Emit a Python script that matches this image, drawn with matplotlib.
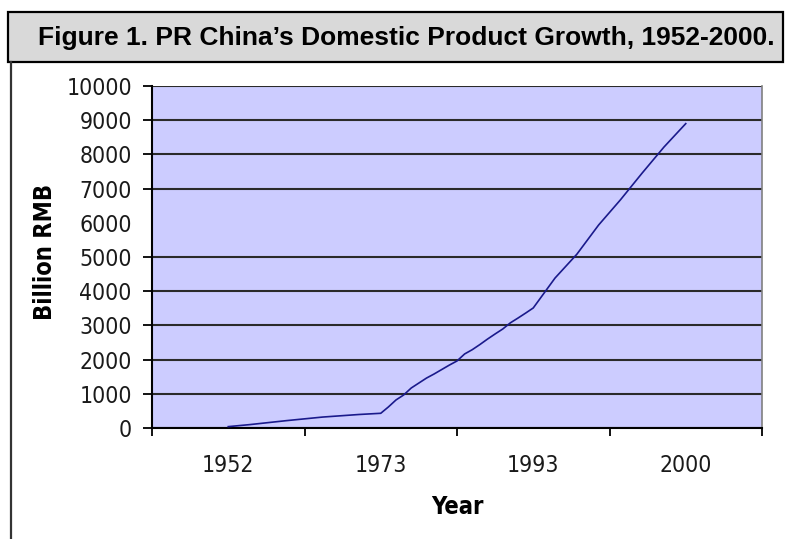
import numpy as np
import matplotlib.pyplot as plt
from matplotlib.patches import Rectangle
from matplotlib.lines import Line2D

# category labels along the x axis
label_years = [1952, 1973, 1993, 2000]

# domestic product, billion RMB
gdp_years = [1952, 1955, 1960, 1965, 1970, 1973,
             1974, 1975, 1976, 1977, 1978, 1979, 1980, 1981, 1982, 1983,
             1984, 1985, 1986, 1987, 1988, 1989, 1990, 1991, 1992, 1993,
             1994, 1995, 1996, 1997, 1998, 1999, 2000]
gdp_values = [40, 100, 215, 320, 395, 430,
              615, 820, 965, 1170, 1315, 1460, 1580, 1710, 1840, 1960,
              2165, 2290, 2440, 2600, 2750, 2895, 3075, 3215, 3360, 3510,
              4385, 5080, 5935, 6670, 7455, 8215, 8900]

y_ticks = list(range(0, 10001, 1000))

plt.rcParams['font.family'] = 'DejaVu Sans'
plt.rcParams['font.stretch'] = 'condensed'

fig = plt.figure(figsize=(7.91, 5.39), dpi=100)

# caption box across the top
fig.patches.append(Rectangle((8 / 791, 1 - 62 / 539), 775 / 791, 50 / 539,
                             transform=fig.transFigure, facecolor='#d9d9d9',
                             edgecolor='black', linewidth=1.6))
fig.text(406 / 791, 1 - 38 / 539,
         'Figure 1. PR China\u2019s Domestic Product Growth, 1952-2000.',
         ha='center', va='center', fontsize=19, fontweight='bold',
         family='Liberation Sans', fontstretch='normal')
fig.lines.append(Line2D([11 / 791, 11 / 791], [0, 1 - 62 / 539],
                        transform=fig.transFigure, color='#333333',
                        linewidth=1.6))

ax = fig.add_axes([152 / 791, 111 / 539, 610 / 791, 342 / 539])
ax.set_facecolor('#ccccff')

# place each year on the category axis
cat_pos = np.arange(len(label_years)) + 0.5
x = np.interp(gdp_years, label_years, cat_pos)
ax.plot(x, gdp_values, color='#1a1a8c', linewidth=1.2, clip_on=False,
        zorder=3)

ax.set_xlim(0, len(label_years))
ax.set_ylim(0, 10000)

ax.set_xticks(np.arange(len(label_years) + 1))
ax.set_xticklabels([])
ax.set_xticks(cat_pos, minor=True)
ax.set_xticklabels([str(y) for y in label_years], minor=True)
ax.tick_params(axis='x', which='major', direction='out', length=6,
               width=1.3, color='black')
ax.tick_params(axis='x', which='minor', length=0, pad=19, labelsize=16.5,
               labelcolor='#1a1a1a')

ax.set_yticks(y_ticks)
ax.set_yticklabels([str(v) for v in y_ticks])
ax.tick_params(axis='y', direction='out', length=6.5, width=1.3,
               pad=8, labelsize=16.5, labelcolor='#1a1a1a')

ax.yaxis.grid(True, color='#2a2a2a', linewidth=1.5)
ax.set_axisbelow(True)
# no rule or tick at 6000
ax.yaxis.get_gridlines()[6].set_visible(False)
ax.yaxis.get_major_ticks()[6].tick1line.set_visible(False)

for side in ['left', 'bottom']:
    ax.spines[side].set_color('black')
    ax.spines[side].set_linewidth(1.5)
ax.spines['top'].set_visible(False)
ax.spines['right'].set_color('#808080')
ax.spines['right'].set_linewidth(1.2)

ax.set_xlabel('Year', fontsize=17, fontweight='bold', va='top')
ax.xaxis.set_label_coords(0.5, (428 - 495) / 342)
ax.set_ylabel('Billion RMB', fontsize=17, fontweight='bold', va='center')
ax.yaxis.set_label_coords((45 - 152) / 610, 0.515)

fig.savefig('out.png', dpi=100, facecolor='white')
